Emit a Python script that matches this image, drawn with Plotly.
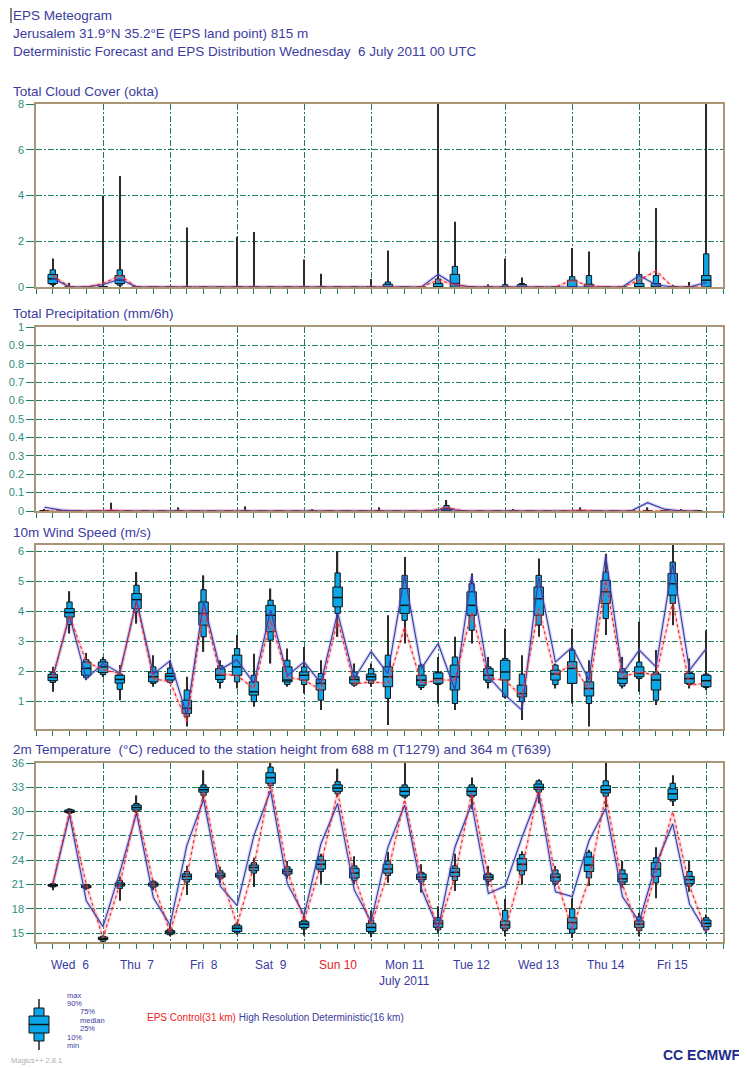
import plotly.graph_objects as go

# ---------------- data ----------------
lead_hours = list(range(6, 241, 6))            # 40 EPS steps (hours after Wed 6 00 UTC)
precip_hours = list(range(3, 240, 6))          # precipitation plotted mid-interval

day_label_hours = [12, 36, 60, 84, 108, 132, 156, 180, 204, 228]
day_labels = ["Wed  6", "Thu  7", "Fri  8", "Sat  9", "Sun 10",
              "Mon 11", "Tue 12", "Wed 13", "Thu 14", "Fri 15"]
day_label_colors = ["#3a3a9e"] * 4 + ["#e8202a"] + ["#3a3a9e"] * 5
month_label = "July 2011"
month_label_hour = 132

# Total cloud cover (okta)
tcc_min = [0.0] * 40
tcc_p10 = [0.1, 0, 0, 0, 0.08, 0, 0, 0, 0, 0, 0, 0, 0, 0, 0, 0, 0, 0, 0, 0,
           0, 0, 0, 0, 0, 0, 0, 0, 0, 0, 0, 0, 0, 0, 0, 0, 0, 0, 0, 0]
tcc_p25 = [0.15, 0, 0, 0, 0.15, 0, 0, 0, 0, 0, 0, 0, 0, 0, 0, 0, 0, 0, 0, 0,
           0, 0, 0, 0, 0, 0, 0, 0, 0, 0, 0, 0, 0, 0, 0, 0, 0, 0, 0, 0]
tcc_med = [0.36, 0, 0, 0, 0.3, 0, 0, 0, 0, 0, 0, 0, 0, 0, 0, 0, 0, 0, 0, 0,
           0, 0, 0, 0, 0.15, 0, 0, 0, 0, 0, 0, 0, 0, 0, 0, 0, 0, 0, 0, 0.3]
tcc_p75 = [0.55, 0, 0, 0, 0.5, 0, 0, 0, 0, 0, 0, 0, 0, 0, 0, 0, 0, 0, 0, 0,
           0.12, 0, 0, 0.15, 0.55, 0, 0, 0, 0.1, 0, 0, 0.3, 0.12, 0, 0, 0.15, 0.15, 0, 0, 0.5]
tcc_p90 = [0.75, 0, 0, 0, 0.75, 0, 0, 0, 0, 0, 0, 0, 0, 0, 0, 0, 0, 0, 0, 0,
           0.22, 0, 0, 0.35, 0.9, 0, 0, 0.1, 0.15, 0, 0, 0.45, 0.5, 0, 0, 0.55, 0.5, 0, 0, 1.45]
tcc_max = [1.25, 0.18, 0, 4.0, 4.85, 0, 0, 0, 2.6, 0, 0, 2.2, 2.4, 0, 0, 1.2, 0.58, 0, 0, 0.35,
           1.6, 0, 0, 8.0, 2.85, 0, 0.12, 1.25, 0.42, 0, 0, 1.7, 1.55, 0, 0, 1.55, 3.45, 0.1, 0.22, 8.0]
tcc_control = [0.5, 0, 0, 0.15, 0.5, 0, 0, 0, 0, 0, 0, 0, 0, 0, 0, 0, 0, 0, 0, 0,
               0, 0, 0, 0.3, 0.1, 0, 0, 0, 0, 0, 0, 0.3, 0.05, 0, 0, 0.3, 0.7, 0, 0, 0]
tcc_hres = [0.38, 0, 0, 0.1, 0.35, 0, 0, 0, 0, 0, 0, 0, 0, 0, 0, 0, 0, 0, 0, 0,
            0, 0, 0, 0.55, 0.1, 0, 0, 0, 0, 0, 0, 0, 0, 0, 0, 0.5, 0.1, 0, 0, 0.2]

# Total precipitation (mm/6h)
tp_min = [0.0] * 40
tp_p10 = [0.0] * 40
tp_p25 = [0.0] * 40
tp_med = [0.0] * 40
tp_p75 = [0, 0, 0, 0, 0, 0, 0, 0, 0, 0, 0, 0, 0, 0, 0, 0, 0, 0, 0, 0,
          0, 0, 0, 0, 0.015, 0, 0, 0, 0, 0, 0, 0, 0, 0, 0, 0, 0, 0, 0, 0]
tp_p90 = [0, 0, 0, 0, 0, 0, 0, 0, 0, 0, 0, 0, 0, 0, 0, 0, 0, 0, 0, 0,
          0, 0, 0, 0, 0.03, 0, 0, 0, 0, 0, 0, 0, 0, 0, 0, 0, 0, 0, 0, 0]
tp_max = [0.01, 0, 0, 0, 0.045, 0, 0, 0, 0.02, 0, 0, 0, 0.025, 0, 0, 0, 0.01, 0, 0, 0,
          0.02, 0, 0, 0, 0.06, 0, 0, 0, 0.01, 0, 0, 0, 0.02, 0, 0, 0, 0.02, 0, 0.01, 0]
tp_control = [0, 0, 0, 0, 0.005, 0, 0, 0, 0, 0, 0, 0, 0, 0, 0, 0, 0, 0, 0, 0,
              0, 0, 0, 0, 0.02, 0, 0, 0, 0, 0, 0, 0, 0.005, 0, 0, 0, 0, 0, 0, 0]
tp_hres = [0.02, 0.005, 0, 0, 0, 0, 0, 0, 0, 0, 0, 0, 0, 0, 0, 0, 0, 0, 0, 0,
           0, 0, 0, 0, 0.01, 0, 0, 0, 0, 0, 0, 0, 0, 0, 0, 0, 0.045, 0.01, 0, 0]

# 10 m wind speed (m/s)
ws_min = [1.31, 3.25, 1.70, 1.80, 1.03, 3.58, 1.48, 1.59, 0.15, 2.64,
          1.42, 1.42, 0.81, 2.25, 1.48, 1.25, 0.70, 3.14, 1.48, 1.48,
          0.20, 2.92, 1.37, 0.92, 0.70, 2.92, 1.42, 1.09, 0.37, 3.14,
          1.42, 0.92, 0.15, 3.20, 1.42, 1.31, 0.87, 3.53, 1.42, 1.37]
ws_p10 = [1.62, 3.55, 1.78, 1.88, 1.39, 3.97, 1.59, 1.62, 0.48, 3.14,
          1.62, 1.64, 0.98, 3.03, 1.55, 1.55, 1.03, 3.92, 1.53, 1.59,
          1.09, 3.69, 1.45, 1.55, 0.92, 3.36, 1.62, 1.14, 0.98, 3.53,
          1.55, 1.59, 0.92, 3.75, 1.50, 1.75, 1.03, 4.25, 1.55, 1.45]
ws_p25 = [1.68, 3.80, 1.86, 1.95, 1.60, 4.08, 1.64, 1.70, 0.59, 3.53,
          1.72, 1.86, 1.20, 3.31, 1.64, 1.70, 1.37, 4.14, 1.59, 1.70,
          1.48, 3.92, 1.53, 1.59, 1.37, 3.86, 1.70, 1.70, 1.14, 3.86,
          1.70, 1.59, 1.17, 4.25, 1.59, 1.81, 1.37, 4.53, 1.59, 1.48]
ws_med = [1.79, 3.95, 2.09, 2.14, 1.72, 4.38, 1.81, 1.83, 0.76, 3.92,
          1.86, 2.14, 1.31, 3.86, 1.70, 1.86, 1.59, 4.45, 1.72, 1.81,
          1.81, 4.19, 1.70, 1.75, 1.81, 4.19, 1.86, 1.97, 1.25, 4.41,
          1.90, 2.09, 1.42, 4.64, 1.75, 1.92, 1.70, 4.91, 1.75, 1.68]
ws_p75 = [1.89, 4.08, 2.30, 2.30, 1.86, 4.58, 1.97, 1.92, 1.03, 4.30,
          2.08, 2.53, 1.64, 4.19, 2.14, 1.97, 1.72, 4.80, 1.81, 1.90,
          2.14, 4.75, 1.86, 1.94, 2.20, 4.64, 2.08, 2.36, 1.53, 4.80,
          2.03, 2.31, 1.64, 5.02, 1.97, 2.14, 1.90, 5.25, 1.92, 1.86]
ws_p90 = [1.95, 4.30, 2.38, 2.38, 1.90, 4.86, 2.14, 2.10, 1.37, 4.71,
          2.18, 2.75, 1.86, 4.36, 2.36, 2.14, 1.92, 5.27, 1.97, 2.08,
          2.53, 5.19, 2.20, 1.97, 2.47, 4.91, 2.14, 2.42, 1.90, 5.19,
          2.20, 2.70, 1.97, 5.30, 2.08, 2.30, 1.97, 5.63, 1.97, 1.90]
ws_max = [2.14, 4.66, 2.60, 2.47, 2.20, 5.30, 2.53, 2.36, 1.81, 5.19,
          2.36, 3.20, 2.58, 4.75, 2.75, 2.80, 2.36, 6.00, 2.25, 2.25,
          3.86, 5.80, 2.25, 2.47, 3.14, 5.25, 2.47, 3.42, 2.53, 5.75,
          2.25, 3.42, 2.36, 5.91, 2.47, 3.64, 2.70, 6.20, 2.42, 3.36]
ws_control = [1.80, 3.85, 2.30, 2.05, 1.92, 4.30, 1.75, 1.64, 0.31, 4.08,
              1.90, 1.85, 1.42, 3.69, 1.80, 1.70, 1.37, 3.69, 1.57, 1.64,
              1.59, 3.47, 1.59, 1.70, 1.70, 3.97, 1.75, 1.70, 1.14, 4.08,
              1.86, 2.25, 1.37, 5.02, 1.81, 1.97, 1.86, 4.30, 1.53, 1.59]
ws_hres = [1.79, 3.85, 1.75, 2.25, 1.94, 4.36, 1.90, 2.34, 0.53, 4.30,
           2.05, 2.38, 1.59, 4.03, 1.85, 2.30, 1.60, 3.95, 1.75, 2.65,
           1.92, 5.19, 2.09, 2.92, 1.37, 5.20, 1.81, 1.20, 0.70, 5.13,
           2.30, 2.80, 1.70, 5.86, 1.92, 2.70, 2.14, 5.58, 2.03, 2.75]

# 2 m temperature (deg C)
t2_min = [20.3, 29.6, 20.3, 13.9, 19.0, 29.8, 20.3, 14.6, 19.7, 31.5,
          21.2, 14.8, 20.7, 32.8, 21.7, 14.7, 21.1, 31.8, 21.0, 14.5,
          21.2, 31.6, 20.0, 15.0, 20.2, 30.3, 20.8, 14.6, 21.0, 31.0,
          20.8, 14.4, 20.8, 30.5, 20.6, 14.6, 19.3, 30.7, 20.1, 15.0]
t2_p10 = [20.7, 29.8, 20.5, 14.0, 20.5, 30.0, 20.6, 14.8, 21.3, 32.0,
          21.7, 15.0, 22.4, 33.2, 22.1, 15.5, 22.6, 32.2, 21.5, 15.0,
          22.1, 31.8, 21.3, 15.4, 21.5, 31.8, 21.4, 15.3, 22.2, 32.4,
          21.1, 15.0, 21.8, 31.9, 21.0, 15.3, 21.2, 31.3, 20.8, 15.4]
t2_p25 = [20.8, 29.9, 20.6, 14.2, 20.8, 30.2, 20.8, 14.9, 21.6, 32.4,
          21.9, 15.2, 22.7, 33.5, 22.3, 15.7, 22.9, 32.5, 21.8, 15.2,
          22.4, 32.0, 21.6, 15.7, 22.0, 32.0, 21.6, 15.6, 22.7, 32.7,
          21.4, 15.5, 22.6, 32.3, 21.3, 15.7, 22.0, 31.5, 21.1, 15.8]
t2_med = [20.9, 30.0, 20.7, 14.3, 21.0, 30.5, 21.0, 15.1, 22.0, 32.7,
          22.1, 15.6, 23.1, 34.2, 22.6, 16.1, 23.5, 32.9, 22.4, 15.7,
          22.9, 32.5, 21.9, 16.2, 22.5, 32.5, 21.9, 16.0, 23.5, 33.0,
          21.9, 16.3, 23.4, 32.7, 21.7, 16.1, 22.9, 32.2, 21.6, 16.2]
t2_p75 = [21.0, 30.2, 20.9, 14.5, 21.2, 30.8, 21.2, 15.3, 22.3, 33.0,
          22.4, 15.9, 23.4, 34.8, 22.9, 16.4, 24.0, 33.3, 23.0, 16.2,
          23.5, 33.0, 22.3, 16.6, 23.0, 33.0, 22.2, 16.5, 24.2, 33.4,
          22.3, 16.9, 24.4, 33.2, 22.3, 16.5, 23.7, 32.8, 22.0, 16.6]
t2_p90 = [21.1, 30.3, 21.0, 14.6, 21.5, 31.0, 21.4, 15.5, 22.6, 33.3,
          22.7, 16.1, 23.7, 35.5, 23.2, 16.6, 24.5, 33.7, 23.3, 16.6,
          23.9, 33.3, 22.5, 16.9, 23.3, 33.3, 22.4, 17.8, 24.7, 33.8,
          22.8, 18.0, 25.0, 33.8, 22.8, 17.0, 24.3, 33.5, 22.6, 16.9]
t2_max = [21.3, 30.4, 21.1, 14.7, 22.0, 32.0, 21.6, 16.0, 23.3, 35.1,
          23.2, 16.3, 24.3, 36.0, 23.9, 17.2, 24.8, 35.3, 24.5, 17.8,
          25.0, 36.0, 23.5, 18.3, 24.8, 34.2, 23.3, 19.2, 25.1, 34.0,
          23.3, 19.3, 25.3, 36.0, 23.9, 17.5, 25.6, 34.5, 23.9, 17.3]
t2_control = [21.1, 30.0, 21.0, 14.4, 21.0, 30.3, 21.2, 15.1, 22.0, 32.4,
              22.3, 16.0, 23.2, 33.6, 22.7, 16.5, 23.4, 32.4, 22.0, 15.9,
              22.5, 31.5, 21.8, 15.5, 22.0, 32.3, 22.0, 15.4, 22.8, 32.9,
              22.0, 15.5, 21.6, 32.0, 21.0, 15.2, 22.5, 30.0, 20.8, 15.3]
t2_hres = [21.0, 29.6, 19.0, 15.8, 22.5, 29.8, 19.4, 16.0, 25.8, 31.5,
           20.8, 18.4, 27.0, 32.6, 21.1, 17.2, 26.0, 31.0, 20.3, 16.4,
           25.6, 30.8, 20.5, 15.5, 25.6, 31.0, 19.9, 20.8, 26.8, 32.2,
           20.1, 19.5, 26.4, 30.4, 19.5, 16.4, 23.5, 28.5, 18.6, 15.1]

# ---------------- styling ----------------
PAGE_W, PAGE_H = 747, 1068
OFF = 8                      # default page body margin offsets the figure by 8 px
W, H = PAGE_W - OFF, PAGE_H - OFF
PLOT_L, PLOT_R = 36, 723     # plot area in page pixels
ML = PLOT_L - OFF
MR = PAGE_W - PLOT_R
PW = PLOT_R - PLOT_L
FONT = "Liberation Sans, Arial, sans-serif"
TITLE_COL = "#3c3c9e"
TICK_COL = "#2f8c7c"
GRID_COL = "#1b7d5e"
FRAME_COL = "#a89674"
BOX_COL = "#0aa6e8"
WHISK_COL = "#2b2b2b"


def px_x(px):
    """page pixel x -> paper x"""
    return (px - PLOT_L) / PW


def px_y(py):
    """page pixel y -> paper y"""
    return 1 - (py - OFF) / H


panels = [  # (top px, bottom px, y-range, tick0, dtick) in page pixels
    (104, 287, [0, 8], 0, 2),
    (327, 511, [0, 1], 0, 0.1),
    (545, 729, [0.07, 6.2], 1, 1),
    (763, 942, [13.9, 36], 15, 3),
]

fig = go.Figure()


def add_panel(i, x, mn, p10, p25, med, p75, p90, mx, ctrl, hres, mark_all=True):
    xa = "x" if i == 1 else f"x{i}"
    ya = "y" if i == 1 else f"y{i}"
    # whiskers (min-max)
    fig.add_trace(go.Bar(x=x, y=[b - a for a, b in zip(mn, mx)], base=mn, width=0.45,
                         marker=dict(color=WHISK_COL, line=dict(width=0)),
                         xaxis=xa, yaxis=ya, showlegend=False, hoverinfo="skip"))
    # 10-90 % box
    fig.add_trace(go.Bar(x=x, y=[b - a for a, b in zip(p10, p90)], base=p10, width=1.9,
                         marker=dict(color=BOX_COL, line=dict(color="#111", width=1)),
                         xaxis=xa, yaxis=ya, showlegend=False, hoverinfo="skip"))
    # 25-75 % box
    fig.add_trace(go.Bar(x=x, y=[b - a for a, b in zip(p25, p75)], base=p25, width=3.4,
                         marker=dict(color=BOX_COL, line=dict(color="#111", width=1)),
                         xaxis=xa, yaxis=ya, showlegend=False, hoverinfo="skip"))
    # median marks
    mxs, mys = [], []
    for xi, m, top in zip(x, med, mx):
        if mark_all or top > 0:
            mxs += [xi - 1.7, xi + 1.7, None]
            mys += [m, m, None]
    fig.add_trace(go.Scatter(x=mxs, y=mys, mode="lines", line=dict(color="#111", width=1.5),
                             xaxis=xa, yaxis=ya, showlegend=False, hoverinfo="skip"))
    # control (red) and high-resolution (blue) lines with soft halo
    fig.add_trace(go.Scatter(x=x, y=hres, mode="lines",
                             line=dict(color="rgba(110,110,210,0.28)", width=3.5),
                             xaxis=xa, yaxis=ya, showlegend=False, hoverinfo="skip"))
    fig.add_trace(go.Scatter(x=x, y=ctrl, mode="lines",
                             line=dict(color="rgba(255,100,100,0.28)", width=3),
                             xaxis=xa, yaxis=ya, showlegend=False, hoverinfo="skip"))
    fig.add_trace(go.Scatter(x=x, y=hres, mode="lines",
                             line=dict(color="#3a3aa6", width=1.1),
                             xaxis=xa, yaxis=ya, showlegend=False, hoverinfo="skip"))
    fig.add_trace(go.Scatter(x=x, y=ctrl, mode="lines",
                             line=dict(color="#f02030", width=1.1, dash="dot"),
                             xaxis=xa, yaxis=ya, showlegend=False, hoverinfo="skip"))


add_panel(1, lead_hours, tcc_min, tcc_p10, tcc_p25, tcc_med, tcc_p75, tcc_p90, tcc_max,
          tcc_control, tcc_hres, mark_all=False)
add_panel(2, precip_hours, tp_min, tp_p10, tp_p25, tp_med, tp_p75, tp_p90, tp_max,
          tp_control, tp_hres, mark_all=False)
add_panel(3, lead_hours, ws_min, ws_p10, ws_p25, ws_med, ws_p75, ws_p90, ws_max,
          ws_control, ws_hres)
add_panel(4, lead_hours, t2_min, t2_p10, t2_p25, t2_med, t2_p75, t2_p90, t2_max,
          t2_control, t2_hres)

layout = dict(
    width=W, height=H,
    margin=dict(l=ML, r=MR, t=0, b=0, autoexpand=False),
    paper_bgcolor="white", plot_bgcolor="white",
    barmode="overlay", showlegend=False,
    font=dict(family=FONT, color=TITLE_COL),
)

for i, (top, bot, yr, t0, dt) in enumerate(panels, start=1):
    xk = "xaxis" if i == 1 else f"xaxis{i}"
    yk = "yaxis" if i == 1 else f"yaxis{i}"
    ya = "y" if i == 1 else f"y{i}"
    xa = "x" if i == 1 else f"x{i}"
    layout[xk] = dict(
        domain=[0, 1], anchor=ya, range=[0, 246],
        tickmode="linear", tick0=0, dtick=24,
        ticks="outside", ticklen=5, tickcolor=GRID_COL, tickwidth=1,
        showticklabels=False,
        showgrid=True, gridcolor=GRID_COL, gridwidth=1, griddash="6px,2px,2px,2px",
        minor=dict(tick0=0, dtick=6, ticks="outside", ticklen=5, tickcolor=GRID_COL,
                   tickwidth=1, showgrid=False),
        showline=True, linecolor=FRAME_COL, linewidth=1.5, mirror=True,
        zeroline=False, fixedrange=True,
    )
    layout[yk] = dict(
        domain=[px_y(bot), px_y(top)], anchor=xa, range=yr,
        tickmode="linear", tick0=t0, dtick=dt,
        ticks="outside", ticklen=8, tickcolor=GRID_COL, tickwidth=1.2,
        tickfont=dict(family=FONT, size=11, color=TICK_COL),
        showgrid=True, gridcolor=GRID_COL, gridwidth=1, griddash="6px,2px,2px,2px",
        showline=True, linecolor=FRAME_COL, linewidth=1.5, mirror=True,
        zeroline=False, fixedrange=True,
    )

fig.update_layout(**layout)

ann = []
# header
header = [("EPS Meteogram", 16),
          ("Jerusalem 31.9°N 35.2°E (EPS land point) 815 m", 33),
          ("Deterministic Forecast and EPS Distribution Wednesday  6 July 2011 00 UTC", 51)]
for txt, py in header:
    ann.append(dict(text=txt, x=px_x(11), y=px_y(py), xref="paper", yref="paper",
                    xanchor="left", yanchor="middle", showarrow=False,
                    font=dict(size=13.5, color=TITLE_COL, family=FONT)))
# panel titles
ptitles = [("Total Cloud Cover (okta)", 91),
           ("Total Precipitation (mm/6h)", 313),
           ("10m Wind Speed (m/s)", 533),
           ("2m Temperature  (°C) reduced to the station height from 688 m (T1279) and 364 m (T639)", 749)]
for txt, py in ptitles:
    ann.append(dict(text=txt, x=px_x(11), y=px_y(py), xref="paper", yref="paper",
                    xanchor="left", yanchor="middle", showarrow=False,
                    font=dict(size=13.5, color=TITLE_COL, family=FONT)))
# day labels
for h, lab, col in zip(day_label_hours, day_labels, day_label_colors):
    ann.append(dict(text=lab, x=h, y=px_y(965), xref="x4", yref="paper",
                    xanchor="center", yanchor="middle", showarrow=False,
                    font=dict(size=12, color=col, family=FONT)))
ann.append(dict(text=month_label, x=month_label_hour, y=px_y(981), xref="x4", yref="paper",
                xanchor="center", yanchor="middle", showarrow=False,
                font=dict(size=12, color="#3a3a9e", family=FONT)))
# legend texts
leg = [("max", 65, 995), ("90%", 65, 1003), ("75%", 78, 1011), ("median", 78, 1020),
       ("25%", 78, 1028), ("10%", 65, 1037), ("min", 65, 1045)]
for txt, px, py in leg:
    ann.append(dict(text=txt, x=px_x(px), y=px_y(py), xref="paper", yref="paper",
                    xanchor="left", yanchor="middle", showarrow=False,
                    font=dict(size=7.5, color="#3a3a9e", family=FONT)))
ann.append(dict(text="<span style='color:#ee2020'>EPS Control(31 km)</span> High Resolution Deterministic(16 km)",
                x=px_x(145), y=px_y(1017), xref="paper", yref="paper",
                xanchor="left", yanchor="middle", showarrow=False,
                font=dict(size=10, color="#3a3a9e", family=FONT)))
ann.append(dict(text="Magics++ 2.8.1", x=px_x(9), y=px_y(1060), xref="paper", yref="paper",
                xanchor="left", yanchor="middle", showarrow=False,
                font=dict(size=7.5, color="#b0b0b0", family=FONT)))
ann.append(dict(text="<b>CC ECMWF</b>", x=px_x(742), y=px_y(1055), xref="paper", yref="paper",
                xanchor="right", yanchor="middle", showarrow=False,
                font=dict(size=14, color="#1c2a8a", family=FONT)))
fig.update_layout(annotations=ann)

# legend glyph and header cursor mark (decorations in paper space)
shapes = []
cx = 39


def rect(x0, x1, y0, y1, fill, lw=1):
    return dict(type="rect", xref="paper", yref="paper",
                x0=px_x(x0), x1=px_x(x1), y0=px_y(y1), y1=px_y(y0),
                fillcolor=fill, line=dict(color="#111", width=lw), layer="above")


def seg(x0, y0, x1, y1, w=1.5, col="#222"):
    return dict(type="line", xref="paper", yref="paper",
                x0=px_x(x0), x1=px_x(x1), y0=px_y(y0), y1=px_y(y1),
                line=dict(color=col, width=w), layer="above")


shapes.append(seg(cx, 999, cx, 1050))
shapes.append(rect(cx - 5, cx + 5, 1008, 1041, BOX_COL))
shapes.append(rect(cx - 10, cx + 10, 1016, 1033, BOX_COL))
shapes.append(seg(cx - 10, 1024.5, cx + 10, 1024.5, w=1.5, col="#111"))
shapes.append(seg(11, 8, 11, 23, w=1.2, col="#333"))
fig.update_layout(shapes=shapes)

fig.write_html("out.html")
